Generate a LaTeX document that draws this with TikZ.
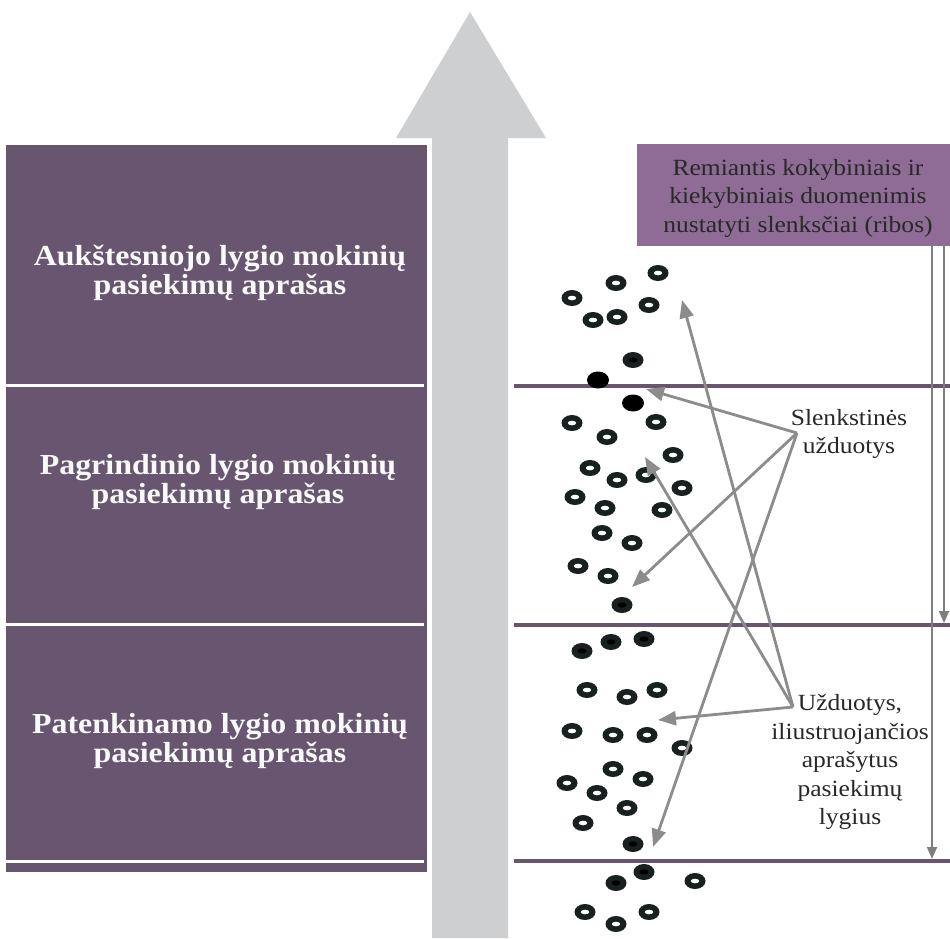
\documentclass[tikz,border=0pt]{standalone}
\usepackage{fontspec}
\setmainfont{Liberation Serif}[FakeStretch=1.1]
\usetikzlibrary{arrows.meta}
\definecolor{boxpurple}{RGB}{104,86,113}
\definecolor{lightpurple}{RGB}{142,108,150}
\definecolor{bigarrow}{RGB}{205,207,209}
\definecolor{linegray}{RGB}{140,140,140}
\definecolor{ringblack}{RGB}{24,32,32}
\definecolor{txtdark}{RGB}{40,40,40}
\begin{document}
\begin{tikzpicture}[x=1pt,y=-1pt,
  leveltext/.style={text=white!95!gray, align=center, inner sep=0pt,
    font=\bfseries\fontsize{29}{28.5}\selectfont},
  plaintext/.style={text=txtdark, align=center, inner sep=0pt,
    font=\fontsize{23.2}{28.5}\selectfont},
  conn/.style={draw=linegray, line width=2.8pt, -{Triangle[length=18pt,width=14pt]}},
  vconn/.style={draw=linegray!90!black, line width=1.8pt, -{Triangle[length=12pt,width=10pt]}},
  sepline/.style={draw=boxpurple, line width=4pt},
  ring/.pic={\fill[ringblack] (0,0) ellipse [x radius=10.5pt, y radius=8pt];
             \fill[white] (0,0) ellipse [x radius=4.2pt, y radius=2.3pt];},
  darkring/.pic={\fill[ringblack] (0,0) ellipse [x radius=10.5pt, y radius=8pt];
             \fill[black] (0,0) ellipse [x radius=4.5pt, y radius=2.6pt];},
  blackdot/.pic={\fill[black] (0,0) ellipse [x radius=11pt, y radius=8.5pt];}
]
\useasboundingbox (0,0) rectangle (950,938);
\clip (0,0) rectangle (950,938);
\fill[white] (0,0) rectangle (950,938);

% left level boxes
\fill[boxpurple] (6,145) rectangle (427,872);
\foreach \yy in {385,624,861} \draw[white, line width=3pt] (6,\yy) -- (424,\yy);
\node[leveltext] (lvl1) at (220,273) {Aukštesniojo lygio mokinių\\pasiekimų aprašas};
\node[leveltext] (lvl2) at (218,482) {Pagrindinio lygio mokinių\\pasiekimų aprašas};
\node[leveltext] (lvl3) at (220,741) {Patenkinamo lygio mokinių\\pasiekimų aprašas};

% big gray arrow
\fill[bigarrow] (432,938) -- (432,138) -- (396,138) -- (470,12) -- (546,138) -- (508,138) -- (508,938) -- cycle;

% right threshold lines
\draw[sepline] (514,386) -- (950,386);
\draw[sepline] (514,625) -- (950,625);
\draw[sepline] (514,861) -- (950,861);

% top right box
\fill[lightpurple] (637,144) rectangle (950,246);
\node[plaintext] (src) at (798,198) {Remiantis kokybiniais ir\\kiekybiniais duomenimis\\nustatyti slenksčiai (ribos)};

% vertical arrows on the right
\coordinate (v1a) at (932,246); \coordinate (v1b) at (932,859);
\coordinate (v2a) at (944,246); \coordinate (v2b) at (944,623);
\coordinate (v3a) at (956,246); \coordinate (v3b) at (956,384);
\draw[vconn] (v1a) -- (v1b);
\draw[vconn] (v2a) -- (v2b);
\draw[vconn] (v3a) -- (v3b);

% dots
\foreach \p in {(658,273),(616,283),(572,298),(649,305),(593,320),(617,317),
  (572,423),(656,422),(607,437),(673,455),(590,468),(617,480),(646,475),(682,488),(575,497),
  (605,508),(662,510),(602,533),(632,543),(578,566),(608,576),
  (587,690),(627,697),(657,690),
  (572,731),(613,735),(647,735),(682,748),(613,769),(643,779),(567,783),(597,793),(627,808),(583,823),
  (695,881),(585,912),(616,924),(649,912)}
  \pic at \p {ring};
\foreach \p in {(633,360),(622,605),(611,642),(644,639),(582,651),(633,844),(644,872),(616,883)}
  \pic at \p {darkring};
\foreach \p in {(598,380),(633,403)}
  \pic at \p {blackdot};

% labels
\node[plaintext] (thr) at (849,434) {Slenkstinės\\užduotys};
\node[plaintext] (ill) at (850,762) {Užduotys,\\iliustruojančios\\aprašytus\\pasiekimų\\lygius};

% arrows
\coordinate (s0) at (797,433);
\coordinate (u0) at (793,707);
\coordinate (t1) at (646,389);
\coordinate (t2) at (632,587);
\coordinate (t3) at (653,847);
\coordinate (i1) at (682,300);
\coordinate (i2) at (645,457);
\coordinate (i3) at (658,720);
\draw[conn] (s0) -- (t1);
\draw[conn] (s0) -- (t2);
\draw[conn] (s0) -- (t3);
\draw[conn] (u0) -- (i1);
\draw[conn] (u0) -- (i2);
\draw[conn] (u0) -- (i3);
\end{tikzpicture}
\end{document}
